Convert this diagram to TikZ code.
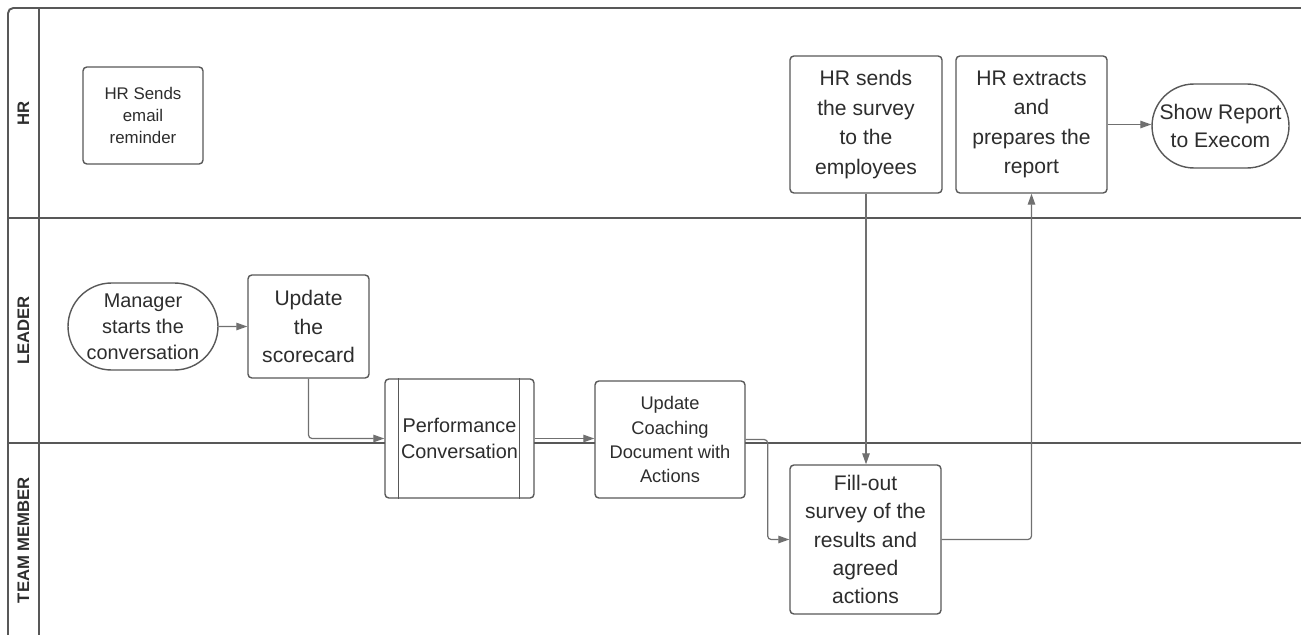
\documentclass[tikz,border=0pt]{standalone}
\usepackage{fontspec}
\setmainfont{Liberation Sans}
\usetikzlibrary{arrows.meta,positioning,shapes.misc}
\definecolor{linegray}{RGB}{88,88,88}
\definecolor{flowgray}{RGB}{112,112,112}
\definecolor{textgray}{RGB}{45,45,45}

\begin{document}
\begin{tikzpicture}[x=0.02cm, y=-0.02cm, >={Stealth[length=2.2mm, width=1.5mm, inset=0pt]}, pool/.style={draw=linegray, line width=1.1pt}, lanelabel/.style={rotate=90, font=\fontsize{9.5}{11}\selectfont\bfseries, text=textgray}, task/.style={draw=linegray, line width=0.8pt, rounded corners=2.2pt, fill=white, align=center, inner sep=0pt, text=textgray}, term/.style={draw=linegray, line width=0.8pt, rounded rectangle, fill=white, align=center, inner sep=0pt, text=textgray}, flow/.style={->, draw=flowgray, line width=0.7pt, rounded corners=2pt}, bigtxt/.style={font=\fontsize{12}{16.2}\selectfont}, midtxt/.style={font=\fontsize{11.3}{14.8}\selectfont}, smalltxt/.style={font=\fontsize{9.6}{12.3}\selectfont}]
\useasboundingbox (0,0) rectangle (1301,635);
% pool and lanes
\draw[pool, rounded corners=3pt] (1301,8) -- (8,8) -- (8,635);
\draw[pool] (39,8) -- (39,635);
\draw[pool] (8,218) -- (1301,218);
\draw[pool] (8,443) -- (1301,443);
\node[lanelabel] (lhr) at (23.5,113) {HR};
\node[lanelabel] (lleader) at (23.5,330.5) {LEADER};
\node[lanelabel] (lteam) at (23.5,540) {TEAM MEMBER};
% HR lane
\node[task, smalltxt, minimum width=2.4cm, minimum height=1.94cm] (remind) at (143,115.5) {HR Sends\\email\\reminder};
\node[task, bigtxt, font=\fontsize{12}{16.8}\selectfont, minimum width=3.04cm, minimum height=2.74cm] (survey) at (866,124.5) {HR sends\\the survey\\to the\\employees};
\node[task, bigtxt, font=\fontsize{12}{16.8}\selectfont, minimum width=3.02cm, minimum height=2.74cm] (extract) at (1031.5,124.5) {HR extracts\\and\\prepares the\\report};
\node[term, bigtxt, minimum width=2.74cm, minimum height=1.68cm] (execom) at (1220.5,126) {Show Report\\to Execom};
% leader lane
\node[term, midtxt, minimum width=3.0cm, minimum height=1.74cm] (manager) at (143,326.5) {Manager\\starts the\\conversation};
\node[task, bigtxt, minimum width=2.42cm, minimum height=2.06cm] (scorecard) at (308.5,326.5) {Update\\the\\scorecard};
\node[task, midtxt, minimum width=2.98cm, minimum height=2.38cm] (perf) at (459.5,438.5) {Performance\\Conversation};
\draw[linegray, line width=0.8pt] ([xshift=0.28cm]perf.north west) -- ([xshift=0.28cm]perf.south west);
\draw[linegray, line width=0.8pt] ([xshift=-0.3cm]perf.north east) -- ([xshift=-0.3cm]perf.south east);
\node[task, font=\fontsize{10.4}{13.7}\selectfont, minimum width=3.0cm, minimum height=2.34cm] (coach) at (670,439.5) {Update\\Coaching\\Document with\\Actions};
% team member lane
\node[task, bigtxt, minimum width=3.02cm, minimum height=2.98cm] (fillout) at (865.5,539.5) {Fill-out\\survey of the\\results and\\agreed\\actions};
% flows
\draw[flow] (manager) -- (scorecard);
\draw[flow] (scorecard.south) |- (perf.west);
\draw[flow] (perf.east) -- (perf.east -| coach.west);
\draw[flow] (coach.east) -- ++(22,0) |- (fillout.west);
\draw[flow] (survey.south) -- (survey.south |- fillout.north);
\draw[flow] (fillout.east) -| (extract.south);
\draw[flow] (extract.east) -- (extract.east -| execom.west);
\end{tikzpicture}
\end{document}
